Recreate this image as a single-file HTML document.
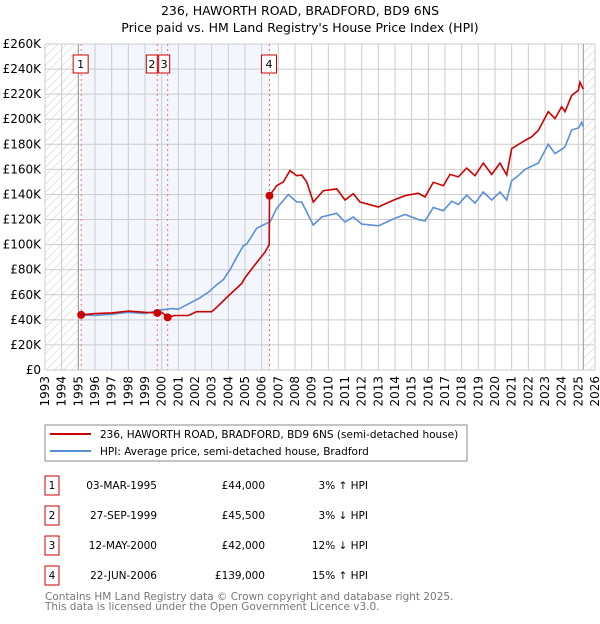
<!DOCTYPE html>
<html><head><meta charset="utf-8"><style>
body{margin:0;background:#fff;width:600px;height:620px;overflow:hidden;font-family:"DejaVu Sans","Liberation Sans",sans-serif;}
svg text{font-family:"DejaVu Sans","Liberation Sans",sans-serif;}
</style></head><body>
<svg id="c" width="600" height="620" xmlns="http://www.w3.org/2000/svg">
<defs><pattern id="h" width="6" height="6" patternUnits="userSpaceOnUse" patternTransform="rotate(45)"><line x1="0" y1="0" x2="0" y2="6" stroke="#ccc" stroke-width="1"/></pattern></defs>
<text x="300" y="15" text-anchor="middle" font-size="12.5">236, HAWORTH ROAD, BRADFORD, BD9 6NS</text>
<text x="300" y="32" text-anchor="middle" font-size="12.5">Price paid vs. HM Land Registry's House Price Index (HPI)</text>
<g id="plot"></g>
<g>
<rect x="45" y="425" width="422" height="36" fill="#fff" stroke="#888"/>
<line x1="50" y1="434" x2="91" y2="434" stroke="#cc0000" stroke-width="2"/>
<text x="100" y="438" font-size="10.5">236, HAWORTH ROAD, BRADFORD, BD9 6NS (semi-detached house)</text>
<line x1="50" y1="451" x2="91" y2="451" stroke="#5b8fd6" stroke-width="2"/>
<text x="100" y="455" font-size="10.5">HPI: Average price, semi-detached house, Bradford</text>
</g>
<g id="tbl" font-size="10.5"></g>
<text x="45" y="600" font-size="10.5" fill="#777">Contains HM Land Registry data © Crown copyright and database right 2025.</text>
<text x="45" y="610" font-size="10.5" fill="#777">This data is licensed under the Open Government Licence v3.0.</text>
</svg>
<script>
const yTicks=[0,20,40,60,80,100,120,140,160,180,200,220,240,260];
const xYears=[1993,1994,1995,1996,1997,1998,1999,2000,2001,2002,2003,2004,2005,2006,2007,2008,2009,2010,2011,2012,2013,2014,2015,2016,2017,2018,2019,2020,2021,2022,2023,2024,2025,2026];
const hpiT=[1995.1,1996,1997,1998,1999,2000,2000.6,2001,2001.5,2002.3,2002.8,2003.3,2003.7,2004.1,2004.5,2004.9,2005.1,2005.7,2006.3,2006.5,2006.9,2007.6,2008.1,2008.4,2009.1,2009.6,2010.5,2011,2011.5,2012,2013,2014,2014.6,2015.4,2015.8,2016.3,2016.9,2017.4,2017.8,2018.3,2018.8,2019.3,2019.8,2020.3,2020.7,2021,2021.4,2021.8,2022.6,2023.2,2023.6,2024,2024.2,2024.6,2025,2025.2,2025.3];
const hpiV=[44,43.5,44.5,46,45,48,49,48.5,52,57.6,62,68,72,80,90,99,100.5,113,117,118,129,140,134,134,115.6,122,125,118,122,116.4,115,121,124,120,118.8,129.6,127,134.6,132,139.4,133,142,135.6,142,135.6,151,155,160,165,180,172.6,176,178,191.5,193,197.5,194];
const salesT=[1995.17,1999.74,2000.36,2006.47];
const salesV=[44,45.5,42,139];
const redT=[1995.17,1996,1997,1998,1999,1999.74,2000.0,2000.36,2000.8,2001.6,2002.1,2003,2003.3,2004,2004.8,2005,2005.6,2006.2,2006.45,2006.47,2006.9,2007.3,2007.7,2008.1,2008.4,2008.7,2009.1,2009.7,2010.5,2011,2011.5,2011.9,2013,2014,2014.6,2015.4,2015.8,2016.3,2016.9,2017.3,2017.8,2018.3,2018.8,2019.3,2019.8,2020.3,2020.7,2021,2021.8,2022.2,2022.6,2023.2,2023.6,2024,2024.2,2024.6,2025,2025.1,2025.3];
const redV=[44,45,45.5,47,46,45.5,46,42,43.5,43.5,46.5,46.5,50,59,69,73.6,84,94,100,139,147,150,159,155,155.5,150,134,143,144.4,135.6,140.6,134,130,136,139,141,138,149.7,147,156,154,161,155,165,156,165,155.5,176.6,183,186,191,206,200.5,210,206,219,223,229.5,224];
const labels=["1","2","3","4"];
const dates=["03-MAR-1995","27-SEP-1999","12-MAY-2000","22-JUN-2006"];
const prices=["£44,000","£45,500","£42,000","£139,000"];
const rel=["3% ↑ HPI","3% ↓ HPI","12% ↓ HPI","15% ↑ HPI"];
const NS="http://www.w3.org/2000/svg";
const L=45,R=595,T=44,B=370;
const X=t=>L+(t-1993)/(2026-1993)*(R-L);
const Y=v=>B-v/260*(B-T);
function mk(tag,a,p){const e=document.createElementNS(NS,tag);for(const k in a)e.setAttribute(k,a[k]);(p||plot).appendChild(e);return e;}
const plot=document.getElementById('plot');
let e;
e=mk('rect',{x:X(1995.17),y:T,width:X(2006.47)-X(1995.17),height:B-T,fill:'#f3f6fd'});


e=mk('rect',{x:L,y:T,width:X(1995)-L,height:B-T,fill:'url(#h)'});


e=mk('rect',{x:X(2025.3),y:T,width:R-X(2025.3),height:B-T,fill:'url(#h)'});


yTicks.forEach(v=>{
 e=mk('line',{x1:L,x2:R,y1:Y(v),y2:Y(v),stroke:'#ccc'});
 
 
 e=mk('text',{x:L-4,y:Y(v)+4,'text-anchor':'end','font-size':12});
 e.textContent=v===0?'£0':'£'+v+'K';
 
 
});
xYears.forEach(y=>{
 e=mk('line',{x1:X(y),x2:X(y),y1:T,y2:B,stroke:'#ccc'});
 
 
 e=mk('text',{x:0,y:0,'text-anchor':'end','font-size':12,transform:`translate(${X(y)+4},${B+6}) rotate(-90)`});
 e.textContent=y;
 
 
});
mk('line',{x1:X(1995),x2:X(1995),y1:T,y2:B,stroke:'#999'});
mk('line',{x1:X(2025.3),x2:X(2025.3),y1:T,y2:B,stroke:'#999'});
salesT.forEach((t,i)=>{
 e=mk('line',{x1:X(t),x2:X(t),y1:T,y2:B,stroke:'#f07070','stroke-dasharray':'2,3'});
 
 
});
const pts=(ts,vs)=>ts.map((t,i)=>X(t).toFixed(1)+','+Y(vs[i]).toFixed(1)).join(' ');
e=mk('polyline',{points:pts(hpiT,hpiV),fill:'none',stroke:'#5b8fd6','stroke-width':1.6});


e=mk('polyline',{points:pts(redT,redV),fill:'none',stroke:'#cc0000','stroke-width':1.6});


salesT.forEach((t,i)=>{
 e=mk('circle',{cx:X(t),cy:Y(salesV[i]),r:4,fill:'#cc0000'});
 
 
 e=mk('rect',{x:i===2?X(t)-9:(i===1?X(t)-11:X(t)-8),y:55,width:i>=1&&i<=2?11:15,height:18,fill:'#fff',stroke:'#cc0000'});
 
 
 e=mk('text',{x:i===2?X(t)-3.5:(i===1?X(t)-5.5:X(t)-0.5),y:68,'text-anchor':'middle','font-size':11});
 e.textContent=labels[i];
 
 
});
const tbl=document.getElementById('tbl');
labels.forEach((l,i)=>{
 const y=489+i*30;
 e=mk('rect',{x:45,y:y-13,width:14,height:19,fill:'#fff',stroke:'#cc0000'},tbl);
 
 
 e=mk('text',{x:52,y:y,'text-anchor':'middle'},tbl);e.textContent=l;
 
 
 e=mk('text',{x:157,y:y,'text-anchor':'end'},tbl);e.textContent=dates[i];
 
 
 e=mk('text',{x:265,y:y,'text-anchor':'end'},tbl);e.textContent=prices[i];
 
 
 e=mk('text',{x:368,y:y,'text-anchor':'end'},tbl);e.textContent=rel[i];
 
 
});
</script>
</body></html>
